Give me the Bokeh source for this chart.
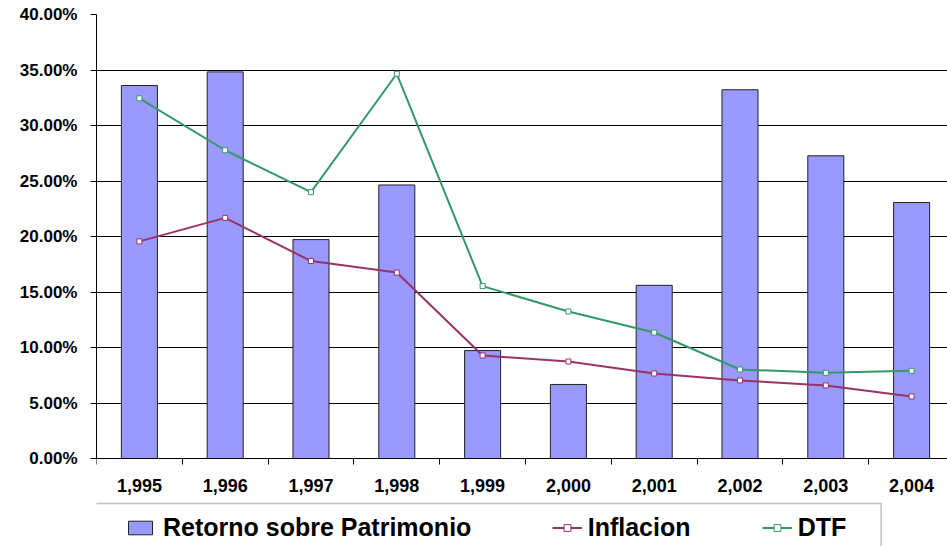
from bokeh.plotting import figure
from bokeh.models import Range1d, FixedTicker, NumeralTickFormatter, Legend, LegendItem, BoxAnnotation
from bokeh.core.properties import value
from bokeh.embed import file_html
from bokeh.resources import INLINE

# ---- data ----
years = [1995, 1996, 1997, 1998, 1999, 2000, 2001, 2002, 2003, 2004]
year_labels = ["1,995", "1,996", "1,997", "1,998", "1,999", "2,000", "2,001", "2,002", "2,003", "2,004"]
retorno = [0.3360, 0.3483, 0.1972, 0.2464, 0.0972, 0.0667, 0.1560, 0.3322, 0.2727, 0.2306]
inflacion = [0.1956, 0.2168, 0.1779, 0.1675, 0.0928, 0.0874, 0.0766, 0.0703, 0.0658, 0.0559]
dtf = [0.3245, 0.2777, 0.2399, 0.3466, 0.1553, 0.1324, 0.1135, 0.0802, 0.0772, 0.0790]
series_names = ["Retorno sobre Patrimonio", "Inflacion", "DTF"]
y_ticks = [0.0, 0.05, 0.10, 0.15, 0.20, 0.25, 0.30, 0.35, 0.40]

BAR_C = "#9999FF"
INF_C = "#993366"
DTF_C = "#339966"

# ---- layout constants (pixels) ----
W, H = 947, 546
LEFT, TOP = 96, 14
ZERO_Y = 458          # pixel row of 0%
CAT_PX = 85.8         # pixels per category
Y_MAX = 0.40
PX_PER_UNIT = (ZERO_Y - TOP) / Y_MAX
y_start = -(H - ZERO_Y) / PX_PER_UNIT
x_end = 0.5 + (W - LEFT) / CAT_PX

def x_at(px):
    return 0.5 + (px - LEFT) / CAT_PX

def y_at(py):
    return -(py - ZERO_Y) / PX_PER_UNIT

x = list(range(1, len(years) + 1))

p = figure(width=W, height=H, output_backend="svg", toolbar_location=None,
           x_range=Range1d(0.5, x_end), y_range=Range1d(y_start, Y_MAX),
           min_border_left=LEFT, min_border_right=0, min_border_top=TOP, min_border_bottom=0)
p.outline_line_color = None
p.background_fill_color = "white"
p.border_fill_color = "white"

# grid
p.xgrid.visible = False
p.ygrid.ticker = FixedTicker(ticks=y_ticks)
p.ygrid.grid_line_color = "black"
p.ygrid.grid_line_width = 1

# bars
bars = p.vbar(x=x, top=retorno, width=0.42, fill_color=BAR_C, line_color="#222222", line_width=1)

# lines
l_inf = p.line(x, inflacion, line_color=INF_C, line_width=2)
s_inf = p.scatter(x, inflacion, marker="square", size=5, line_color=INF_C, fill_color="white", line_width=1)
l_dtf = p.line(x, dtf, line_color=DTF_C, line_width=2)
s_dtf = p.scatter(x, dtf, marker="square", size=5, line_color=DTF_C, fill_color="white", line_width=1)

# y axis
ya = p.yaxis[0]
ya.bounds = (0, Y_MAX)
ya.ticker = FixedTicker(ticks=y_ticks)
ya.formatter = NumeralTickFormatter(format="0.00%")
ya.axis_line_color = "black"
ya.major_tick_line_color = "black"
ya.major_tick_out = 6
ya.major_tick_in = 0
ya.minor_tick_line_color = None
ya.major_label_standoff = 13
ya.major_label_text_font = "Liberation Sans"
ya.major_label_text_font_style = "bold"
ya.major_label_text_font_size = "17px"
ya.major_label_text_color = "black"

# x axis (fixed at y = 0 inside the frame)
xa = p.xaxis[0]
xa.fixed_location = 0
xa.ticker = FixedTicker(ticks=x, minor_ticks=[v - 0.5 for v in x] + [x[-1] + 0.5])
xa.major_label_overrides = {xi: lab for xi, lab in zip(x, year_labels)}
xa.axis_line_color = "black"
xa.major_tick_line_color = None
xa.major_tick_out = 0
xa.major_tick_in = 0
xa.minor_tick_line_color = "black"
xa.minor_tick_out = 6
xa.minor_tick_in = 0
xa.major_label_standoff = 14
xa.major_label_text_font = "Liberation Sans"
xa.major_label_text_font_style = "bold"
xa.major_label_text_font_size = "18px"
xa.major_label_text_color = "black"

# legend frame
p.add_layout(BoxAnnotation(left=x_at(89), right=x_at(880.7), top=y_at(503), bottom=y_at(H + 40),
                           fill_color=None, fill_alpha=0, line_color="#333333", line_width=1.5))

def item_legend(label, renderers, vx, standoff):
    return Legend(items=[LegendItem(label=value(label), renderers=renderers)],
                  location=(vx, 4), orientation="horizontal",
                  glyph_width=30, glyph_height=17, label_standoff=standoff,
                  padding=0, margin=0, spacing=0, label_height=30,
                  border_line_color=None, background_fill_alpha=0,
                  label_text_font="Liberation Sans", label_text_font_style="bold",
                  label_text_font_size="25px", label_text_color="black")

p.add_layout(item_legend(series_names[0], [bars], 125 - LEFT, 8), "center")
p.add_layout(item_legend(series_names[1], [l_inf, s_inf], 551.7 - LEFT, 6), "center")
p.add_layout(item_legend(series_names[2], [l_dtf, s_dtf], 761.7 - LEFT, 6), "center")

open("out.html", "w").write(file_html(p, INLINE))
